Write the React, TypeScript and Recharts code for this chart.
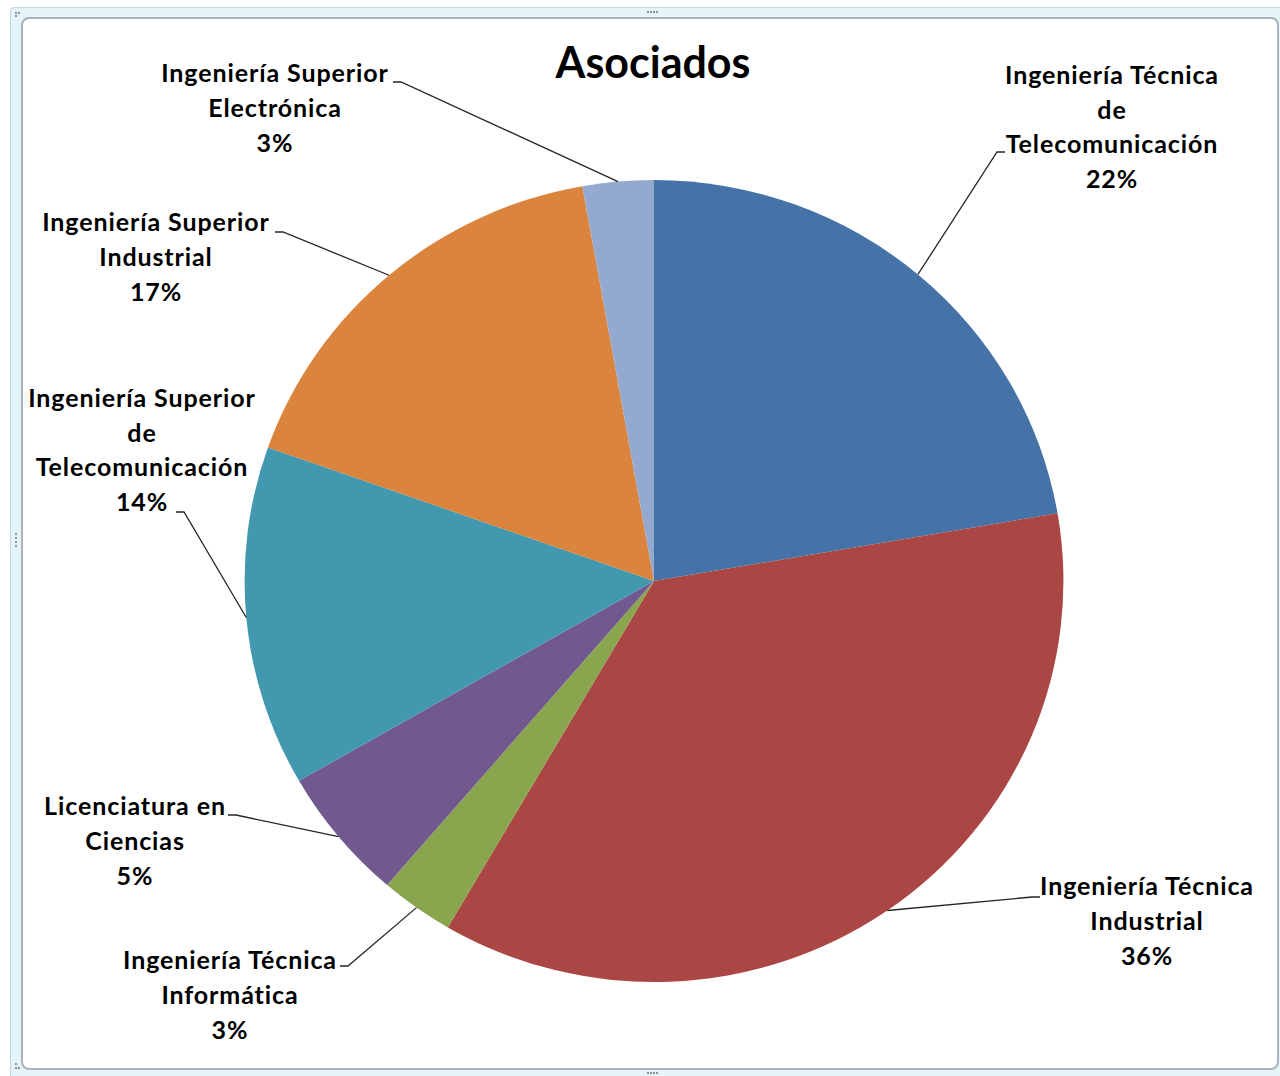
import { PieChart, Pie, Cell, Sector } from 'recharts';

// category names, already broken into the lines shown in the labels
const categoryLines = [
  ['Ingeniería Técnica', 'de', 'Telecomunicación'],
  ['Ingeniería Técnica', 'Industrial'],
  ['Ingeniería Técnica', 'Informática'],
  ['Licenciatura en', 'Ciencias'],
  ['Ingeniería Superior', 'de', 'Telecomunicación'],
  ['Ingeniería Superior', 'Industrial'],
  ['Ingeniería Superior', 'Electrónica'],
];
const shares = [22.3, 36.1, 2.9, 5.4, 13.7, 16.8, 2.8];
const colors = ['#4572A7', '#AA4643', '#89A54E', '#71588F', '#4198AF', '#DB843D', '#93A9CF'];

// label placement (offsets from pie centre), Excel-style manual positions
const labelOffsets = [
  { x: 458, y: -455, ex: 351, ey: -429 },
  { x: 493, y: 339, ex: 386, ey: 316 },
  { x: -424, y: 413, ex: -314, ey: 385 },
  { x: -519, y: 259, ex: -426, ey: 234 },
  { x: -512, y: -132, ex: -478, ey: -69 },
  { x: -498, y: -325, ex: -379, ey: -349 },
  { x: -379, y: -474, ex: -261, ey: -499 },
];

const W = 1280;
const H = 1076;
const CX = 654;
const CY = 581;
const R = 401;
const SX = 1.021; // the original pie is slightly stretched horizontally
const LINE_H = 34.6;
const FONT = 'Lato, "DejaVu Sans", sans-serif';
const RAD = Math.PI / 180;

const data = shares.map((v, i) => ({ name: categoryLines[i].join(' '), value: v }));

function renderSlice(props: any) {
  const { cx, cy } = props;
  return (
    <g transform={`translate(${cx},${cy}) scale(${SX},1) translate(${-cx},${-cy})`}>
      <Sector {...props} />
    </g>
  );
}

function renderLabel(props: any) {
  const { cx, cy, midAngle, outerRadius, percent, index } = props;
  const off = labelOffsets[index];
  const sx = cx + outerRadius * SX * Math.cos(-midAngle * RAD);
  const sy = cy + outerRadius * Math.sin(-midAngle * RAD);
  const ex = cx + off.ex;
  const ey = cy + off.ey;
  const right = off.ex > 0;
  const kx = ex + (right ? -8 : 8);
  const lines = [...categoryLines[index], `${Math.round(percent * 100)}%`];
  const top = cy + off.y - ((lines.length - 1) / 2) * LINE_H;
  return (
    <g key={`lbl-${index}`}>
      <polyline
        points={`${sx},${sy} ${kx},${ey} ${ex},${ey}`}
        fill="none"
        stroke="#262626"
        strokeWidth={1.3}
      />
      <text
        x={cx + off.x}
        y={top}
        textAnchor="middle"
        fontFamily={FONT}
        fontWeight={700}
        fontSize={25}
        letterSpacing={0.9}
        fill="#000"
      >
        {lines.map((ln, j) => (
          <tspan key={j} x={cx + off.x} y={top + j * LINE_H} dominantBaseline="central">
            {ln}
          </tspan>
        ))}
      </text>
    </g>
  );
}

const dot = (x: number, y: number) => (
  <div
    style={{ position: 'absolute', left: x, top: y, width: 2, height: 2, background: '#8a9499' }}
  />
);

export default function App() {
  return (
    <div style={{ position: 'absolute', left: 0, top: 0, width: W, height: H, background: '#fff', overflow: 'hidden' }}>
      {/* outer frame */}
      <div
        style={{
          position: 'absolute', left: 10, top: 7, width: 1290, height: 1090,
          background: '#e5f4f8', border: '1px solid #c3d8de', borderRadius: 4,
        }}
      />
      <div
        style={{
          position: 'absolute', left: 21, top: 17, width: 1254, height: 1049,
          background: '#fff', border: '2px solid #aab3b7', borderRadius: 8,
        }}
      />
      {dot(15, 12)}
      {dot(18, 12)}
      {dot(15, 15)}
      {[647, 650, 653, 656].map((x) => <div key={`t${x}`}>{dot(x, 11)}</div>)}
      {[647, 650, 653, 656].map((x) => <div key={`b${x}`}>{dot(x, 1072)}</div>)}
      {[533, 537, 541, 545].map((y) => <div key={`l${y}`}>{dot(15, y)}</div>)}
      {dot(15, 1063)}
      {dot(15, 1067)}
      {dot(18, 1067)}
      <div
        style={{
          position: 'absolute', left: 0, top: 36, width: 1306, textAlign: 'center',
          fontFamily: FONT, fontWeight: 700, fontSize: 43, color: '#000', lineHeight: '52px',
        }}
      >
        Asociados
      </div>
      <div style={{ position: 'absolute', left: 0, top: 0 }}>
        <PieChart width={W} height={H} margin={{ top: 0, right: 0, bottom: 0, left: 0 }}>
          <Pie
            data={data}
            dataKey="value"
            nameKey="name"
            cx={CX}
            cy={CY}
            outerRadius={R}
            startAngle={90}
            endAngle={-270}
            stroke="none"
            shape={renderSlice}
            label={renderLabel}
            labelLine={false}
            isAnimationActive={false}
          >
            {data.map((d, i) => (
              <Cell key={d.name} fill={colors[i]} />
            ))}
          </Pie>
        </PieChart>
      </div>
    </div>
  );
}
